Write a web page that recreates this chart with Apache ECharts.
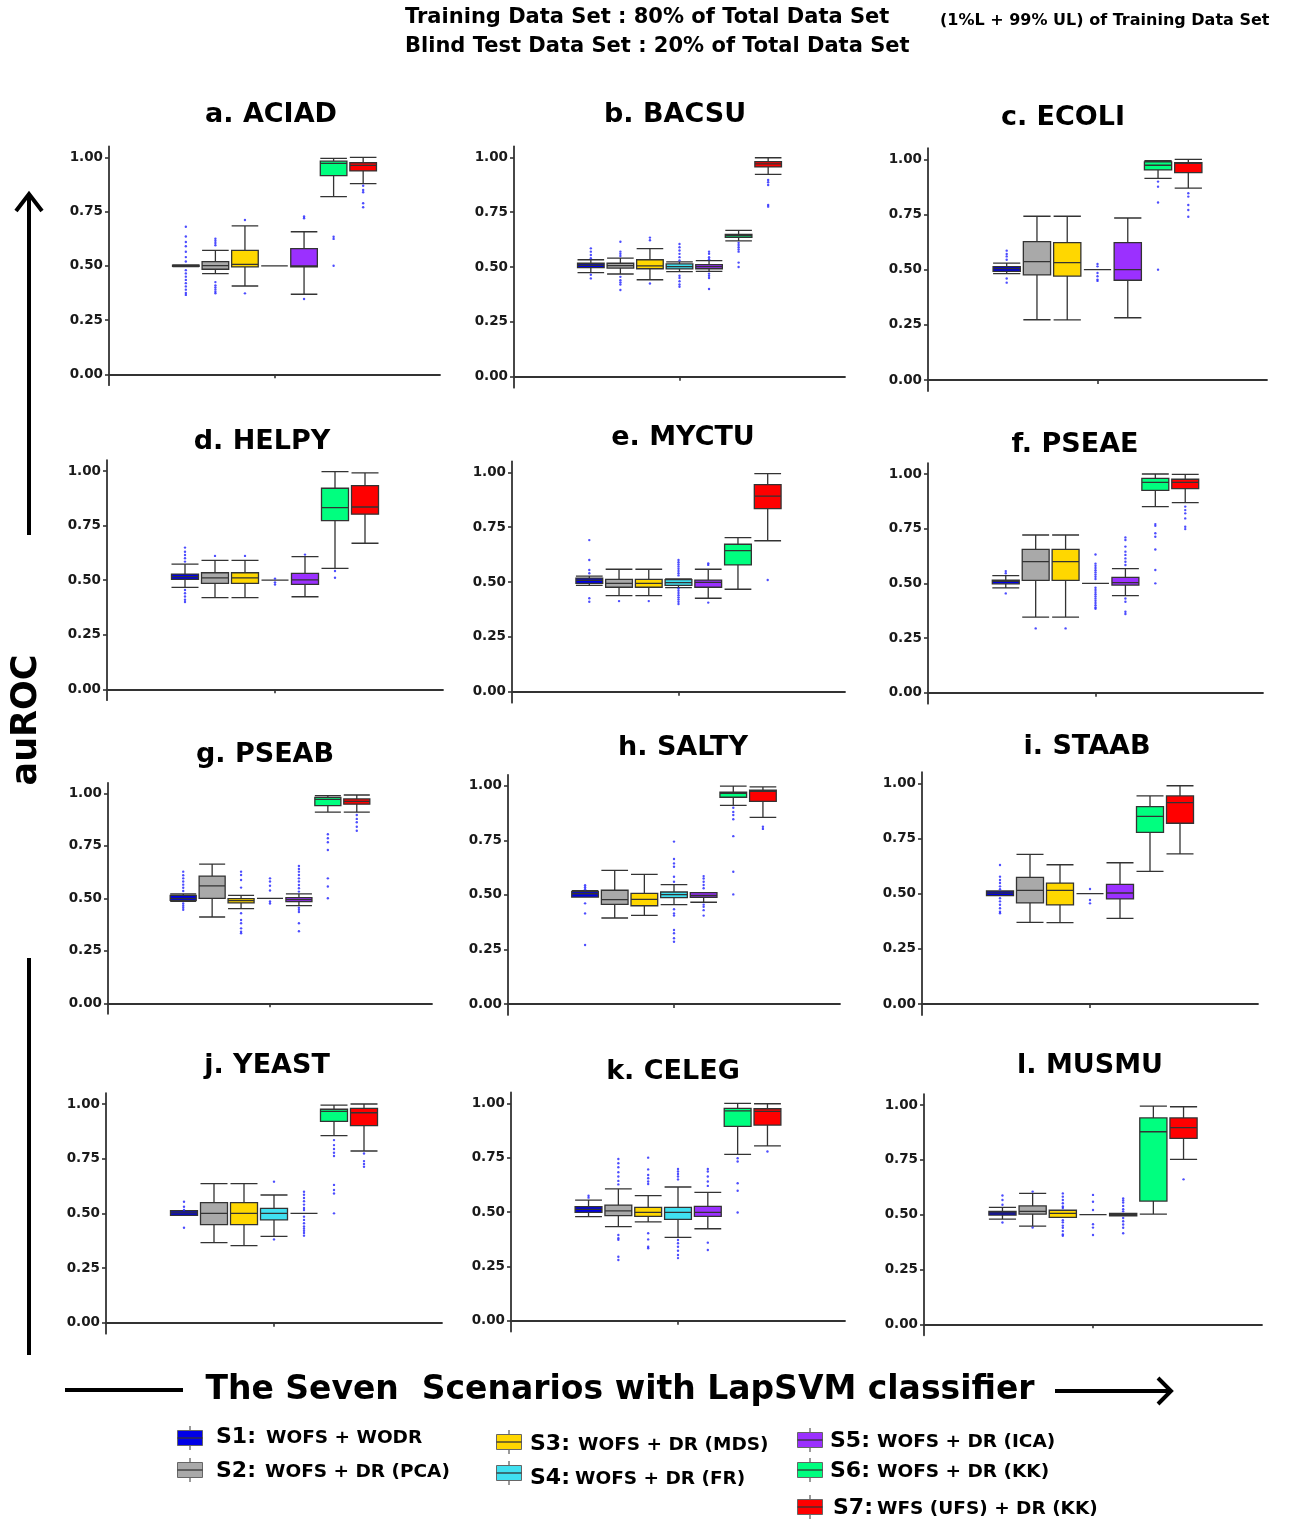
<!DOCTYPE html>
<html><head><meta charset="utf-8">
<script src="https://cdn.jsdelivr.net/npm/echarts@6/dist/echarts.min.js"></script>
<style>html,body{margin:0;padding:0;background:#fff}#chart{width:1291px;height:1521px}</style>
</head><body><div id="chart"></div>
<script>
// ---------------- DATA ----------------
const scenarios = ['S1','S2','S3','S4','S5','S6','S7'];
const scenarioPrefix = ['S1:','S2:','S3:','S4:','S5:','S6:','S7:'];
const scenarioLabels = ['WOFS + WODR','WOFS + DR (PCA)','WOFS + DR (MDS)','WOFS + DR (FR)','WOFS + DR (ICA)','WOFS + DR (KK)','WFS (UFS) + DR (KK)'];
const panelTitles = ['a. ACIAD','b. BACSU','c. ECOLI','d. HELPY','e. MYCTU','f. PSEAE','g. PSEAB','h. SALTY','i. STAAB','j. YEAST','k. CELEG','l. MUSMU'];
const yTicks = [0, 0.25, 0.5, 0.75, 1.0];

// boxes: [lower whisker, Q1, median, Q3, upper whisker] per scenario
const boxACIAD = [[0.496,0.497,0.5,0.503,0.504],[0.464,0.484,0.501,0.519,0.571],[0.407,0.495,0.507,0.571,0.684],[0.5,0.5,0.5,0.5,0.5],[0.369,0.495,0.5,0.579,0.657],[0.819,0.916,0.972,0.982,0.995],[0.879,0.937,0.963,0.975,1.0]];
const outACIAD = [[0.68,0.635,0.61,0.59,0.565,0.54,0.52,0.48,0.465,0.45,0.435,0.42,0.405,0.39,0.375,0.366],[0.625,0.615,0.605,0.595,0.425,0.41,0.4,0.39,0.38,0.373],[0.711,0.373],[],[0.727,0.719,0.347],[0.634,0.624,0.5],[0.869,0.849,0.839,0.788,0.77]];

const boxBACSU = [[0.474,0.497,0.508,0.517,0.533],[0.468,0.495,0.506,0.517,0.54],[0.442,0.492,0.505,0.533,0.584],[0.479,0.491,0.502,0.514,0.523],[0.48,0.492,0.502,0.511,0.529],[0.619,0.635,0.643,0.649,0.667],[0.922,0.956,0.97,0.98,0.998]];
const outBACSU = [[0.585,0.57,0.555,0.54,0.465,0.448],[0.615,0.57,0.56,0.55,0.455,0.44,0.43,0.42,0.395],[0.634,0.622,0.425],[0.605,0.59,0.575,0.56,0.545,0.53,0.46,0.45,0.435,0.42,0.41],[0.57,0.56,0.545,0.535,0.47,0.46,0.45,0.4],[0.61,0.6,0.59,0.58,0.57,0.52,0.5],[0.897,0.886,0.874,0.783,0.775]];

const boxECOLI = [[0.482,0.492,0.505,0.514,0.53],[0.273,0.476,0.536,0.627,0.742],[0.272,0.471,0.532,0.622,0.742],[0.5,0.5,0.5,0.5,0.5],[0.282,0.452,0.5,0.622,0.734],[0.914,0.952,0.973,0.988,0.994],[0.869,0.94,0.982,0.985,1.0]];
const outECOLI = [[0.586,0.571,0.56,0.545,0.46,0.441],[],[],[0.526,0.515,0.485,0.47,0.455,0.449],[],[0.899,0.876,0.804,0.5],[0.846,0.831,0.793,0.77,0.74]];

const boxHELPY = [[0.467,0.504,0.516,0.528,0.573],[0.42,0.485,0.51,0.534,0.591],[0.42,0.485,0.51,0.534,0.591],[0.5,0.5,0.5,0.5,0.5],[0.424,0.481,0.501,0.531,0.608],[0.554,0.773,0.832,0.921,0.997],[0.669,0.802,0.835,0.933,0.991]];
const outHELPY = [[0.649,0.63,0.615,0.6,0.585,0.455,0.44,0.425,0.41,0.4],[0.611],[0.611],[0.507,0.49,0.48],[0.617],[0.542,0.511],[]];

const boxMYCTU = [[0.485,0.494,0.508,0.518,0.527],[0.438,0.476,0.494,0.512,0.558],[0.438,0.476,0.494,0.512,0.558],[0.474,0.485,0.497,0.511,0.514],[0.426,0.476,0.498,0.509,0.558],[0.467,0.578,0.643,0.672,0.702],[0.688,0.834,0.891,0.944,0.994]];
const outMYCTU = [[0.691,0.6,0.555,0.54,0.426,0.41],[0.413],[0.413],[0.6,0.59,0.58,0.57,0.56,0.55,0.54,0.53,0.47,0.46,0.45,0.44,0.43,0.42,0.41,0.4],[0.585,0.578,0.406],[],[0.509]];

const boxPSEAE = [[0.479,0.498,0.509,0.515,0.535],[0.346,0.514,0.599,0.655,0.721],[0.346,0.514,0.599,0.655,0.721],[0.5,0.5,0.5,0.5,0.5],[0.444,0.492,0.503,0.527,0.567],[0.851,0.925,0.962,0.98,1.0],[0.869,0.933,0.962,0.976,0.998]];
const outPSEAE = [[0.556,0.546,0.454],[0.294],[0.294],[0.632,0.59,0.58,0.57,0.56,0.55,0.54,0.53,0.52,0.48,0.47,0.46,0.45,0.44,0.43,0.42,0.41,0.4,0.39,0.384],[0.71,0.698,0.668,0.645,0.63,0.614,0.599,0.584,0.431,0.416,0.37,0.36],[0.771,0.763,0.729,0.713,0.655,0.561,0.5],[0.851,0.835,0.82,0.797,0.759,0.748]];

const boxPSEAB = [[0.485,0.49,0.5,0.514,0.521],[0.411,0.5,0.559,0.606,0.663],[0.451,0.478,0.489,0.498,0.514],[0.5,0.5,0.5,0.5,0.5],[0.465,0.484,0.494,0.503,0.521],[0.91,0.941,0.971,0.981,0.989],[0.91,0.948,0.962,0.973,0.992]];
const outPSEAB = [[0.627,0.61,0.595,0.58,0.565,0.55,0.535,0.475,0.465,0.455,0.445],[],[0.627,0.611,0.587,0.551,0.429,0.397,0.381,0.357,0.341,0.333],[0.595,0.58,0.56,0.537,0.485,0.475],[0.654,0.64,0.627,0.611,0.595,0.58,0.563,0.548,0.532,0.455,0.445,0.435,0.381,0.343],[0.805,0.786,0.767,0.73,0.595,0.556,0.5],[0.897,0.878,0.862,0.841,0.822]];

const boxSALTY = [[0.49,0.49,0.505,0.515,0.519],[0.394,0.456,0.478,0.521,0.612],[0.406,0.45,0.479,0.507,0.594],[0.455,0.487,0.501,0.513,0.547],[0.466,0.489,0.498,0.51,0.51],[0.91,0.947,0.965,0.971,0.998],[0.855,0.928,0.974,0.98,0.995]];
const outSALTY = [[0.544,0.535,0.526,0.461,0.415,0.27],[],[],[0.744,0.664,0.644,0.629,0.583,0.56,0.434,0.415,0.405,0.339,0.324,0.301,0.285],[0.586,0.575,0.56,0.545,0.53,0.455,0.445,0.43,0.405],[0.899,0.88,0.866,0.846,0.769,0.606,0.502],[0.812,0.802]];

const boxSTAAB = [[0.491,0.491,0.502,0.512,0.512],[0.37,0.458,0.515,0.574,0.678],[0.369,0.449,0.515,0.548,0.631],[0.5,0.5,0.5,0.5,0.5],[0.388,0.476,0.503,0.542,0.64],[0.601,0.778,0.85,0.894,0.943],[0.68,0.819,0.912,0.943,0.989]];
const outSTAAB = [[0.63,0.577,0.562,0.548,0.533,0.52,0.479,0.465,0.45,0.434,0.418,0.411],[],[],[0.521,0.471,0.456],[],[],[]];

const boxYEAST = [[0.491,0.491,0.502,0.512,0.512],[0.366,0.448,0.5,0.549,0.636],[0.352,0.448,0.5,0.549,0.636],[0.395,0.47,0.5,0.523,0.584],[0.5,0.5,0.5,0.5,0.5],[0.855,0.921,0.966,0.976,0.995],[0.785,0.901,0.96,0.98,1.0]];
const outYEAST = [[0.553,0.53,0.515,0.434],[],[],[0.645,0.381],[0.599,0.585,0.57,0.555,0.54,0.525,0.515,0.485,0.47,0.455,0.44,0.43,0.42,0.41,0.398],[0.835,0.812,0.794,0.777,0.762,0.63,0.607,0.591,0.5],[0.774,0.739,0.726,0.713]];

const boxCELEG = [[0.479,0.498,0.512,0.525,0.555],[0.433,0.483,0.505,0.532,0.606],[0.455,0.48,0.498,0.521,0.575],[0.383,0.466,0.498,0.521,0.615],[0.423,0.48,0.498,0.526,0.59],[0.765,0.894,0.965,0.977,1.0],[0.804,0.9,0.963,0.975,0.998]];
const outCELEG = [[0.575,0.566],[0.744,0.724,0.706,0.683,0.663,0.643,0.627,0.394,0.379,0.372,0.294,0.279],[0.75,0.696,0.67,0.655,0.64,0.629,0.402,0.374,0.34,0.333],[0.698,0.686,0.675,0.663,0.65,0.371,0.356,0.34,0.322,0.302,0.288],[0.698,0.686,0.663,0.64,0.62,0.359,0.325],[0.747,0.732,0.632,0.598,0.498],[0.778]];

const boxMUSMU = [[0.48,0.498,0.508,0.515,0.533],[0.448,0.502,0.515,0.54,0.597],[0.488,0.488,0.506,0.52,0.52],[0.5,0.5,0.5,0.5,0.5],[0.495,0.495,0.5,0.506,0.506],[0.502,0.562,0.878,0.941,0.995],[0.752,0.848,0.897,0.941,0.992]];
const outMUSMU = [[0.587,0.567,0.545,0.464],[0.605,0.441],[0.597,0.582,0.567,0.552,0.537,0.53,0.475,0.465,0.45,0.44,0.425,0.41,0.404],[0.59,0.559,0.521,0.456,0.441,0.407],[0.574,0.565,0.555,0.54,0.525,0.515,0.485,0.47,0.455,0.44,0.415],[],[0.661]];

const panelBoxes = [boxACIAD,boxBACSU,boxECOLI,boxHELPY,boxMYCTU,boxPSEAE,boxPSEAB,boxSALTY,boxSTAAB,boxYEAST,boxCELEG,boxMUSMU];
const panelOutliers = [outACIAD,outBACSU,outECOLI,outHELPY,outMYCTU,outPSEAE,outPSEAB,outSALTY,outSTAAB,outYEAST,outCELEG,outMUSMU];

// ---------------- STYLE / LAYOUT ----------------
const scenarioColors = ['#0000E6','#A9A9A9','#FFD700','#40E0F0','#9B30FF','#00FF7F','#FF0000'];
const FONT = '"DejaVu Sans", sans-serif';
// [axisLeft, axisRight, y(1.00), y(0.00)]
const panelLayout = [
  [109,440,157.3,374.3],[514,845,157.3,376.7],[928,1267,159.3,380],
  [107,443,471,689.3],[512,845,472.3,691.7],[928,1263,474,692.7],
  [108,432,793.3,1003.3],[508,840,785.7,1004],[922,1258,783.3,1004],
  [106,442,1104,1322.7],[511,845,1103.3,1320.7],[924,1262,1105,1324.3]
];
const titlePos = [[271,115],[675,115],[1063,118],[262,442],[683,438],[1075,445],[265,755],[683,748],[1087,747],[267,1066],[673,1072],[1090,1066]];
const legendPos = [[190,1438,216,266],[190,1470,216,265],[509,1442,530,578],[509,1473,530,575],[810,1440,830,877],[810,1470,830,877],[810,1507,833,877]];
const legendY = [1437,1471,1444,1478,1441,1471,1508];

const grids=[], xAxes=[], yAxes=[], series=[], graphics=[];
const axisColor = '#333';

panelLayout.forEach((L, i) => {
  const [left, right, y1, y0] = L;
  const unit = y0 - y1;
  const top = y1 - 0.05*unit;
  const height = 1.1*unit;
  const width = right - left;
  const innerW = width*0.625;
  const innerL = left + (width - innerW)/2;
  grids.push({left:left, top:top, width:width, height:height});
  grids.push({left:innerL, top:top, width:innerW, height:height});
  const go = 2*i, gi = 2*i+1;
  xAxes.push({gridIndex:go, type:'category', data:[''],
    axisLine:{show:true, lineStyle:{color:axisColor, width:1.8}},
    axisTick:{show:true, alignWithLabel:true, length:4, lineStyle:{color:axisColor, width:1.6}},
    axisLabel:{show:false}, splitLine:{show:false}});
  xAxes.push({gridIndex:gi, type:'category', data:scenarios, show:false});
  yAxes.push({gridIndex:go, type:'value', min:-0.05, max:1.05,
    axisLine:{show:true, lineStyle:{color:axisColor, width:1.8}},
    axisTick:{show:true, length:4, customValues:yTicks, lineStyle:{color:axisColor, width:1.6}},
    axisLabel:{show:true, customValues:yTicks, formatter:v=>Number(v).toFixed(2), fontFamily:FONT, fontWeight:'bold', fontSize:13.5, color:'#1a1a1a', margin:6},
    splitLine:{show:false}});
  yAxes.push({gridIndex:gi, type:'value', min:-0.05, max:1.05, show:false, splitLine:{show:false}});
  series.push({type:'boxplot', xAxisIndex:gi, yAxisIndex:gi, boxWidth:['90%','90%'], silent:true,
    itemStyle:{borderColor:'#333', borderWidth:1.3},
    data: panelBoxes[i].map((b,k)=>({value:b, itemStyle:{color:scenarioColors[k], borderColor:'#333', borderWidth:1.3}}))});
  const pts = [];
  panelOutliers[i].forEach((arr,k)=>arr.forEach(v=>pts.push([k, v])));
  series.push({type:'scatter', xAxisIndex:gi, yAxisIndex:gi, silent:true, symbol:'circle', symbolSize:2.4, z:5,
    itemStyle:{color:'#2020FF'}, data:pts});
  graphics.push({type:'text', x:titlePos[i][0], y:titlePos[i][1],
    style:{text:panelTitles[i], fill:'#000', fontFamily:FONT, fontWeight:'bold', fontSize:27,
      textAlign:'center', textVerticalAlign:'middle', align:'center', verticalAlign:'middle'}});
});

// top texts
const txt = (s, x, y, size, align, extra) => Object.assign({type:'text', x:x, y:y,
  style:{text:s, fill:'#000', fontFamily:FONT, fontWeight:'bold', fontSize:size,
    textAlign:align, textVerticalAlign:'middle', align:align, verticalAlign:'middle'}}, extra||{});
graphics.push(txt('Training Data Set : 80% of Total Data Set', 405, 18, 21, 'left'));
graphics.push(txt('Blind Test Data Set : 20% of Total Data Set', 405, 47, 21, 'left'));
graphics.push(txt('(1%L + 99% UL) of Training Data Set', 940, 21, 16, 'left'));
graphics.push(txt('auROC', 27, 720, 35, 'center', {rotation:Math.PI/2}));
graphics.push(txt('The Seven  Scenarios with LapSVM classifier', 620, 1390, 33, 'center'));

// arrows / lines
const ln = (x1,y1,x2,y2) => ({type:'line', shape:{x1,y1,x2,y2}, style:{stroke:'#000', lineWidth:4}});
graphics.push(ln(29,194,29,535));
graphics.push({type:'polyline', shape:{points:[[16,211],[29,194],[42,211]]}, style:{stroke:'#000', lineWidth:4, fill:null}});
graphics.push(ln(29,958,29,1355));
graphics.push(ln(65,1390,183,1390));
graphics.push(ln(1055,1391,1171,1391));
graphics.push({type:'polyline', shape:{points:[[1158,1378],[1171,1391],[1158,1404]]}, style:{stroke:'#000', lineWidth:4, fill:null}});

// legend
scenarios.forEach((s,k) => {
  const [cx, cy, tx1, tx2] = legendPos[k];
  graphics.push({type:'line', shape:{x1:cx, y1:cy-12, x2:cx, y2:cy+12}, style:{stroke:'#555', lineWidth:1.2}});
  graphics.push({type:'rect', shape:{x:cx-12.5, y:cy-7.5, width:25, height:15}, style:{fill:scenarioColors[k], stroke:'#666', lineWidth:1}});
  graphics.push({type:'line', shape:{x1:cx-12.5, y1:cy, x2:cx+12.5, y2:cy}, style:{stroke:'#333', lineWidth:1.3}});
  graphics.push(txt(scenarioPrefix[k], tx1, legendY[k], 22, 'left'));
  graphics.push(txt(scenarioLabels[k], tx2, legendY[k]+1, 18.5, 'left'));
});

const chart = echarts.init(document.getElementById('chart'));
chart.setOption({
  animation:false,
  backgroundColor:'#fff',
  grid:grids, xAxis:xAxes, yAxis:yAxes, series:series,
  graphic:{elements:graphics}
});
</script>
</body></html>
